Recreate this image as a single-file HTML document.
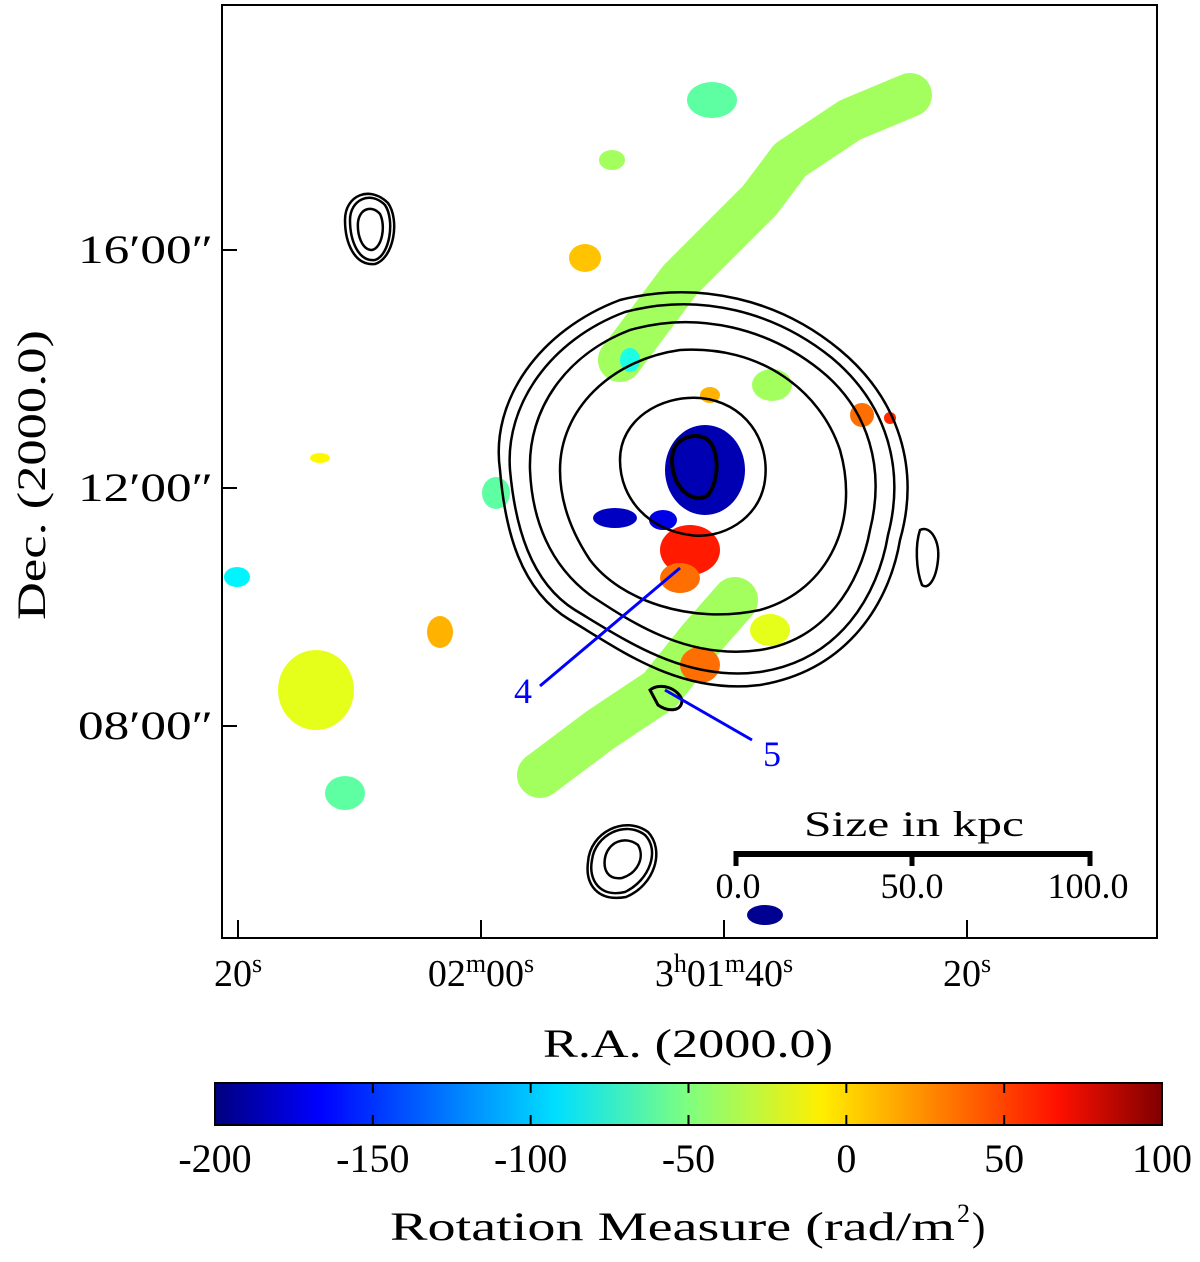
<!DOCTYPE html>
<html><head><meta charset="utf-8"><style>
body{margin:0;background:#fff}
svg{display:block;font-family:"Liberation Serif",serif}
</style></head><body>
<svg id="chart" width="1200" height="1262" viewBox="0 0 1200 1262" xmlns="http://www.w3.org/2000/svg">
<defs>
<linearGradient id="jet" x1="0" x2="1" y1="0" y2="0">
<stop offset="0" stop-color="#00007f"/><stop offset="0.11" stop-color="#0000ff"/><stop offset="0.36" stop-color="#00dfff"/><stop offset="0.5" stop-color="#7fff7f"/><stop offset="0.64" stop-color="#ffef00"/><stop offset="0.89" stop-color="#ff1000"/><stop offset="1" stop-color="#7f0000"/>
</linearGradient>
<clipPath id="plotclip"><rect x="222" y="5" width="935" height="933"/></clipPath>
</defs>
<g id="marks" clip-path="url(#plotclip)"></g>
<g id="contours" clip-path="url(#plotclip)" fill="none" stroke="#000" stroke-width="2.5">
<path d="M500,470 C490,400 540,330 620,300 C700,280 780,300 840,350 C900,400 920,470 900,540 C890,600 850,670 760,685 C680,695 620,650 570,620 C520,590 505,530 500,470Z"/>
<path d="M510,470 C505,405 550,340 625,312 C700,292 775,312 832,358 C888,405 905,470 888,535 C878,595 840,660 760,672 C685,682 625,640 575,610 C530,582 515,525 510,470Z"/>
<path d="M530,470 C528,410 565,355 630,330 C700,310 770,330 820,370 C870,410 885,470 870,530 C860,585 825,640 760,650 C690,660 635,625 590,595 C550,565 532,520 530,470Z"/>
<path d="M560,470 C560,410 610,360 680,350 C760,345 820,390 840,450 C860,520 830,590 760,610 C690,625 620,600 590,560 C570,530 560,500 560,470Z"/>
<path d="M620,460 C620,420 660,395 700,398 C745,402 770,440 765,480 C760,520 720,540 690,535 C650,530 620,500 620,460Z"/>
<path d="M672,460 C672,440 690,432 705,438 C720,446 720,480 708,495 C695,505 672,490 672,460Z" stroke-width="4"/>
<path d="M920,530 C930,525 940,540 938,560 C936,580 928,590 922,585 C916,570 915,545 920,530Z"/>
<path d="M345,220 C345,195 370,185 388,203 C400,220 394,258 375,264 C354,266 345,242 345,220Z"/>
<path d="M350,220 C350,200 370,190 385,205 C395,220 390,255 375,260 C358,262 350,240 350,220Z"/>
<path d="M358,222 C360,208 372,205 380,214 C386,226 382,248 372,250 C362,250 357,235 358,222Z"/>
<path d="M588,862 C590,832 625,815 648,832 C665,850 655,885 626,897 C598,902 585,885 588,862Z"/>
<path d="M592,860 C595,835 625,820 645,835 C660,850 650,880 625,892 C600,898 588,880 592,860Z"/>
<path d="M605,858 C608,842 625,835 638,845 C645,857 638,873 622,878 C608,880 603,870 605,858Z"/>
<path d="M650,690 C660,682 678,688 682,700 C682,712 668,712 658,705Z" stroke-width="3"/>
</g>
<rect x="222" y="5" width="935" height="933" fill="none" stroke="#000" stroke-width="2"/>
<g id="axes"></g>
<g>
<line x1="540" y1="686" x2="680" y2="568" stroke="#00f" stroke-width="3"/>
<text x="523" y="703" font-size="36" fill="#00f" text-anchor="middle">4</text>
<line x1="665" y1="690" x2="752" y2="740" stroke="#00f" stroke-width="3"/>
<text x="772" y="766" font-size="36" fill="#00f" text-anchor="middle">5</text>
</g>
<g>
<text x="914" y="836" font-size="36" text-anchor="middle" textLength="220" lengthAdjust="spacingAndGlyphs">Size in kpc</text>
<line x1="735" y1="854" x2="1092" y2="854" stroke="#000" stroke-width="6"/>
<line x1="736" y1="851" x2="736" y2="866" stroke="#000" stroke-width="5"/>
<line x1="912" y1="851" x2="912" y2="866" stroke="#000" stroke-width="5"/>
<line x1="1090" y1="851" x2="1090" y2="866" stroke="#000" stroke-width="5"/>
<text x="738" y="898" font-size="36" text-anchor="middle">0.0</text>
<text x="912" y="898" font-size="36" text-anchor="middle">50.0</text>
<text x="1088" y="898" font-size="36" text-anchor="middle">100.0</text>
</g>
<text x="543" y="1057" font-size="40" textLength="290" lengthAdjust="spacingAndGlyphs">R.A. (2000.0)</text>
<text transform="translate(45,620) rotate(-90)" font-size="40" textLength="290" lengthAdjust="spacingAndGlyphs">Dec. (2000.0)</text>
<g id="cbar">
<rect x="215" y="1083" width="947" height="42" fill="url(#jet)" stroke="#000" stroke-width="2"/>
</g>
<text x="390" y="1240" font-size="40" textLength="565" lengthAdjust="spacingAndGlyphs">Rotation Measure (rad/m</text>
<text x="957" y="1222" font-size="26">2</text>
<text x="972" y="1240" font-size="40">)</text>
</svg>
<script>
const NS="http://www.w3.org/2000/svg";
const cbTicks=[-200,-150,-100,-50,0,50,100];
const decTicks=["16′00″","12′00″","08′00″"];
const decVals=[16,12,8];
const raVals=[80,60,40,20];
const blobX=[712,612,705,663,320,440,316,345,237,496,615,690,680,772,862,710,585,700,765,770,890,630];
const blobY=[100,160,470,520,458,632,690,793,577,493,518,550,578,385,415,395,258,665,915,630,418,360];
const blobRX=[25,13,40,14,10,13,38,20,13,14,22,30,20,20,12,10,16,20,18,20,6,10];
const blobRY=[18,10,45,10,5,16,40,17,10,16,10,25,15,16,12,8,14,18,10,16,6,12];
const blobRM=[-60,-40,-185,-170,-10,10,-20,-60,-90,-60,-180,55,30,-40,30,10,5,30,-195,-20,50,-80];
const bandX=[540,600,660,700,735];
const bandY=[775,730,690,640,600];
const bandX2=[620,680,720,760,790,850,910];
const bandY2=[360,280,240,200,160,120,95];
const bandRM=[-40,-40];
function raToX(v){return 238+(80-v)*(724-238)/40;}
function decToY(v){return 250+(16-v)*(488-250)/4;}
function rmToX(v){return 215+(v+200)*(1162-215)/300;}
function jet(v){let t=(v+200)/300;t=Math.max(0,Math.min(1,t));
 const f=x=>Math.max(0,Math.min(1,1.5-Math.abs(4*t-x)));
 return `rgb(${Math.round(255*f(3))},${Math.round(255*f(2))},${Math.round(255*f(1))})`;}
const marks=document.getElementById('marks');
function poly(xs,ys,rm,w,name){const p=document.createElementNS(NS,'polyline');
 p.setAttribute('points',xs.map((x,i)=>x+','+ys[i]).join(' '));
 p.setAttribute('fill','none');p.setAttribute('stroke',jet(rm));p.setAttribute('stroke-width',w);
 p.setAttribute('stroke-linecap','round');p.setAttribute('stroke-linejoin','round');
 
 
 marks.appendChild(p);}
poly(bandX,bandY,bandRM[0],46,'lower-band');
poly(bandX2,bandY2,bandRM[1],44,'upper-band');
blobX.forEach((x,i)=>{const e=document.createElementNS(NS,'ellipse');
 e.setAttribute('cx',x);e.setAttribute('cy',blobY[i]);e.setAttribute('rx',blobRX[i]);e.setAttribute('ry',blobRY[i]);
 e.setAttribute('fill',jet(blobRM[i]));
 
 
 marks.appendChild(e);});
const axes=document.getElementById('axes');
function line(x1,y1,x2,y2,w,g){const l=document.createElementNS(NS,'line');
 l.setAttribute('x1',x1);l.setAttribute('y1',y1);l.setAttribute('x2',x2);l.setAttribute('y2',y2);
 l.setAttribute('stroke','#000');l.setAttribute('stroke-width',w);g.appendChild(l);return l;}
decVals.forEach((v,i)=>{const y=decToY(v);line(222,y,237,y,2,axes);
 const t=document.createElementNS(NS,'text');t.setAttribute('x',78);t.setAttribute('y',y+13);
 t.setAttribute('font-size',40);t.setAttribute('textLength',135);t.setAttribute('lengthAdjust','spacingAndGlyphs');
 t.textContent=decTicks[i];
 
 
 axes.appendChild(t);});
const raSup=[["20","s"],["02","m","00","s"],["3","h","01","m","40","s"],["20","s"]];
raVals.forEach((v,i)=>{const x=raToX(v);line(x,938,x,920,2,axes);
 const t=document.createElementNS(NS,'text');t.setAttribute('x',x);t.setAttribute('y',986);
 t.setAttribute('font-size',38);t.setAttribute('text-anchor','middle');
 raSup[i].forEach((s,j)=>{const sp=document.createElementNS(NS,'tspan');sp.textContent=s;
  if(j%2===1){sp.setAttribute('font-size',26);sp.setAttribute('dy',-14);}else if(j>0){sp.setAttribute('dy',14);}
  t.appendChild(sp);});
 
 
 axes.appendChild(t);});
const cb=document.getElementById('cbar');
cbTicks.forEach(v=>{const x=rmToX(v);
 if(v>-200&&v<100){line(x,1083,x,1093,2,cb);line(x,1115,x,1125,2,cb);}
 const t=document.createElementNS(NS,'text');t.setAttribute('x',x);t.setAttribute('y',1172);
 t.setAttribute('font-size',40);t.setAttribute('text-anchor','middle');t.textContent=v;
 
 
 cb.appendChild(t);});
</script>
</body></html>
